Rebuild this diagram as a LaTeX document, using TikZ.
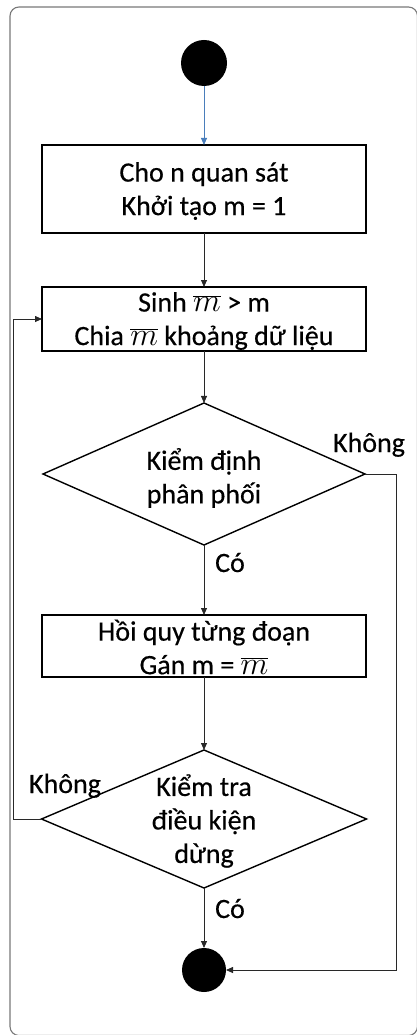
\documentclass[tikz,border=0pt]{standalone}
\usepackage{fontspec}
\setmainfont{Carlito}[FakeBold=0.4]
\usetikzlibrary{shapes.geometric,arrows.meta}
\definecolor{flowblue}{RGB}{74,126,187}
\definecolor{framegray}{RGB}{120,120,120}
\definecolor{linegray}{RGB}{40,40,40}
% barred m, set a little larger than the surrounding text
\newcommand{\mbar}{\scalebox{1.3}{$\overline{m}$}}
\begin{document}
\begin{tikzpicture}[x=1pt,y=-1pt,
  txt/.style={font=\fontsize{28}{33.5}\selectfont,inner sep=0pt,align=center},
  procbox/.style={draw,line width=1.6pt,minimum width=324pt,inner sep=0pt,outer sep=0pt},
  decision/.style={diamond,draw,line width=1.4pt,inner sep=0pt,outer sep=0pt},
  dot/.style={circle,fill=black,inner sep=0pt,outer sep=0pt},
  flow/.style={draw=linegray,line width=0.8pt,-{Triangle[length=7pt,width=6pt]}}
]
\useasboundingbox (0,0) rectangle (417,1035);
% outer frame
\draw[framegray,line width=1.1pt,rounded corners=9pt] (10,7) rectangle (417.5,1035.5);

% shapes
\node[dot,minimum size=46pt] (start) at (204,63) {};
\node[procbox,minimum height=88pt] (b1) at (204,189) {};
\node[procbox,minimum height=64pt] (b2) at (204,319) {};
\node[decision,minimum width=322pt,minimum height=142pt] (d1) at (204,474) {};
\node[procbox,minimum height=62pt] (b3) at (204,646) {};
\node[decision,minimum width=325pt,minimum height=138pt] (d2) at (204,819) {};
\node[dot,minimum size=44pt] (end) at (204,970) {};

% texts
\node[txt] (t1) at (204,191) {Cho n quan sát\\Khởi tạo m = 1};
\node[txt] (t2) at (204,321) {Sinh \mbar{} > m\\Chia \mbar{} khoảng dữ liệu};
\node[txt] (t3) at (204,478) {Kiểm định\\phân phối};
\node[txt] (t4) at (204,647) {Hồi quy từng đoạn\\Gán m = \mbar};
\node[txt] (t5) at (204,821) {Kiểm tra\\điều kiện\\dừng};

% branch labels
\node[txt,anchor=base] (l1) at (369,452) {Không};
\node[txt,anchor=base] (l2) at (230,572) {Có};
\node[txt,anchor=base] (l3) at (65,793) {Không};
\node[txt,anchor=base] (l4) at (230,918) {Có};

% connectors
\coordinate (rturn) at (396,474);
\coordinate (lturn) at (13,819);
\draw[flow,draw=flowblue] (start) -- (b1);
\draw[flow] (b1) -- (b2);
\draw[flow] (b2) -- (d1);
\draw[flow] (d1) -- (b3);
\draw[flow] (b3) -- (d2);
\draw[flow] (d2) -- (end);
\draw[flow] (d1.east) -- (rturn) |- (end);
\draw[flow] (d2.west) -- (lturn) |- (b2);
\end{tikzpicture}
\end{document}
